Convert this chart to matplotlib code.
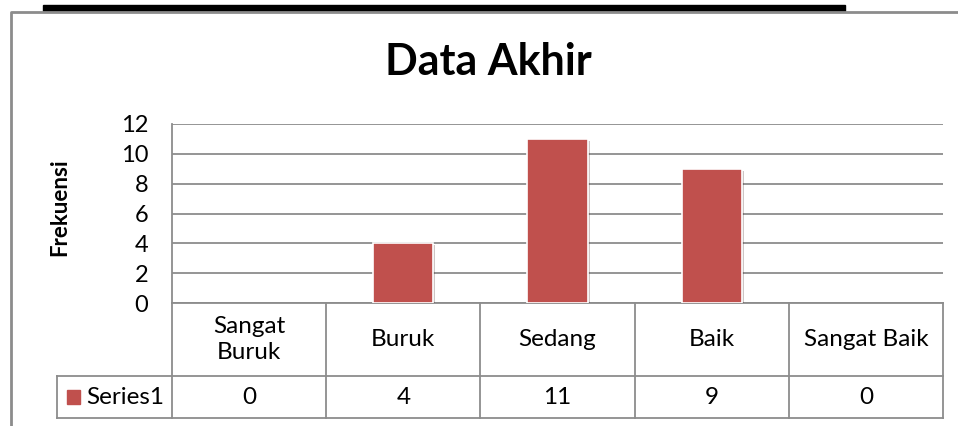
#!/usr/bin/env python

import matplotlib
matplotlib.use('Agg')
from matplotlib import pyplot as plt, patheffects as pe
from matplotlib.lines import Line2D
from matplotlib.patches import Rectangle

# data
categories = ['Sangat\nBuruk', 'Buruk', 'Sedang', 'Baik', 'Sangat Baik']
values     = [0, 4, 11, 9, 0]
series     = 'Series1'
yticks     = [0, 2, 4, 6, 8, 10, 12]
title      = 'Data Akhir'
ylabel     = 'Frekuensi'

W, H = 958, 426
barcol  = '#C0504D'
linecol = '#8C8C8C'
fs = 17.5
plt.rcParams['font.family'] = ['Lato', 'DejaVu Sans']


def px(x0, y0, x1, y1):
    # pixel box -> figure fraction rect
    return [x0 / W, 1 - y1 / H, (x1 - x0) / W, (y1 - y0) / H]


def main():
    fig = plt.figure(figsize=(W / 100, H / 100), dpi=100)

    # outer decorations: black bar and chart border
    fig.patches.append(Rectangle((43 / W, 1 - 11 / H), (845 - 43) / W, 6 / H,
                                 transform=fig.transFigure, color='black'))
    fig.lines.append(Line2D([11 / W, 11 / W, 1], [0, 1 - 12 / H, 1 - 12 / H],
                            transform=fig.transFigure, color='#8C8C8C', lw=2))

    ax = fig.add_axes(px(172, 124, 943, 303))
    n = len(categories)
    ax.set_xlim(-0.5, n - 0.5)
    ax.set_ylim(0, 12)
    for s in ['top', 'right', 'bottom']:
        ax.spines[s].set_visible(False)
    ax.spines['left'].set_color(linecol)
    ax.spines['left'].set_linewidth(1.3)
    ax.set_yticks(yticks)
    ax.set_yticklabels([str(t) for t in yticks], fontsize=17)
    ax.tick_params(axis='y', length=0, pad=17)
    ax.set_xticks([])
    ax.yaxis.grid(True, color=linecol, lw=1.3)
    ax.set_axisbelow(True)

    bars = ax.bar(range(n), values, width=0.39, color=barcol,
                  edgecolor='white', linewidth=1.2, zorder=3)
    for b, v in zip(bars, values):
        if v == 0:
            b.set_visible(False)
            continue
        b.set_path_effects([pe.SimplePatchShadow(offset=(1.5, -1.5), alpha=0.25),
                            pe.Normal()])

    fig.text(488 / W, 1 - 75 / H, title, fontsize=31, fontweight='bold',
             ha='center', va='baseline')
    fig.text(60 / W, 1 - 207 / H, ylabel, fontsize=16, fontweight='bold',
             rotation=90, ha='center', va='center')

    # data table under the plot (axes coords)
    r1, r2 = -73 / 179, -115 / 179
    xl = -115 / 771
    kw = dict(transform=ax.transAxes, color=linecol, lw=1.3, clip_on=False)
    ax.plot([0, 1], [0, 0], **kw)
    ax.plot([xl, 1], [r1, r1], **kw)
    ax.plot([xl, 1], [r2, r2], **kw)
    ax.plot([xl, xl], [r1, r2], **kw)
    for i in range(n + 1):
        ax.plot([i / n, i / n], [0, r2], **kw)
    for i, (c, v) in enumerate(zip(categories, values)):
        xc = (i + 0.5) / n
        ax.text(xc, r1 / 2, c, transform=ax.transAxes, ha='center',
                va='center', fontsize=fs, linespacing=1.3)
        ax.text(xc, (r1 + r2) / 2, str(v), transform=ax.transAxes,
                ha='center', va='center', fontsize=fs)
    # legend key inside the table
    ax.add_patch(Rectangle((-105 / 771, (r1 + r2) / 2 - 7 / 179), 13 / 771, 14 / 179,
                           transform=ax.transAxes, color=barcol, clip_on=False))
    ax.text(-86 / 771, (r1 + r2) / 2, series, transform=ax.transAxes,
            ha='left', va='center', fontsize=fs)

    fig.savefig('out.png', dpi=100)


if __name__ == '__main__':
    main()
